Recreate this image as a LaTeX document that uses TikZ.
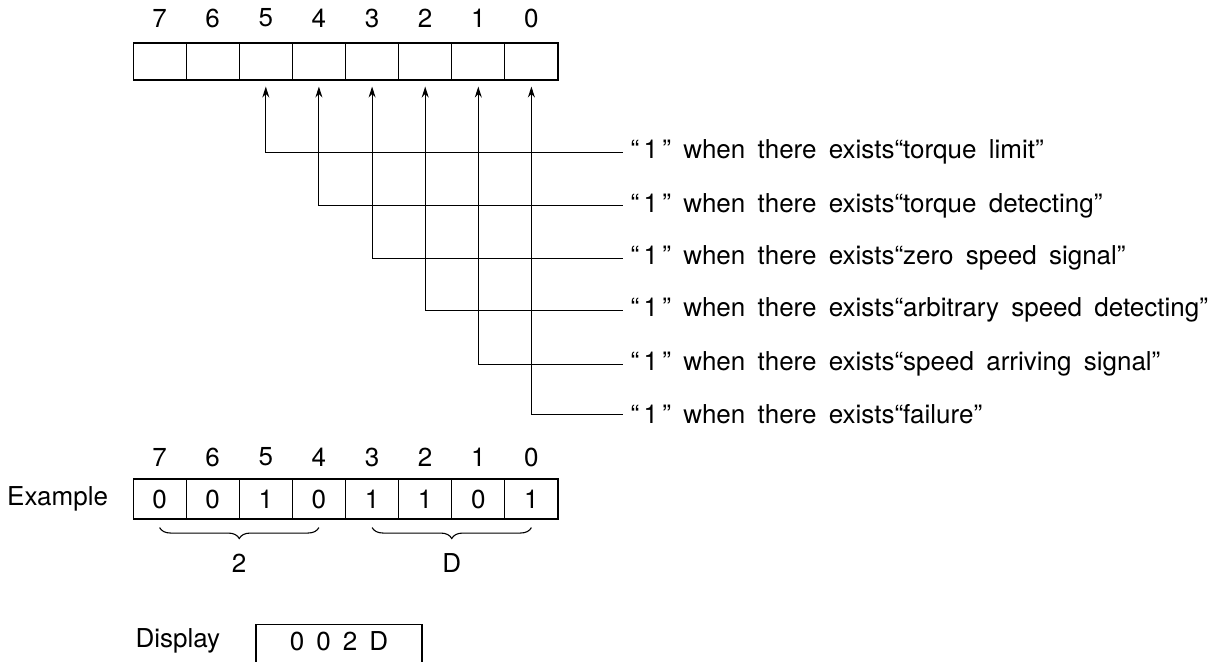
\documentclass[tikz,border=0pt]{standalone}
\usepackage{fontspec}
\setmainfont{TeX Gyre Heros}
\newfontfamily\descfont{TeX Gyre Heros}[WordSpace=1.7]
\usepackage{tikz}
\usetikzlibrary{arrows.meta,positioning,decorations.pathreplacing}

\begin{document}
\begin{tikzpicture}[>={Stealth[length=11pt,width=7pt]},x=1pt,y=-1pt,line width=1.1pt,
  every node/.style={font=\fontsize{26}{30}\selectfont},
  cell/.style={draw,minimum width=53.1pt,minimum height=37pt,inner sep=0pt},
  desc/.style={anchor=west,inner xsep=7pt,font=\descfont\fontsize{26}{30}\selectfont},
  brace/.style={decorate,decoration={brace,mirror,amplitude=11pt}}]
\useasboundingbox (0,0) rectangle (1222,661);
\node[cell] (r7) at (159.6,61.5) {};
\node[cell] (r6) at (212.7,61.5) {};
\node[cell] (r5) at (265.8,61.5) {};
\node[cell] (r4) at (318.9,61.5) {};
\node[cell] (r3) at (372.1,61.5) {};
\node[cell] (r2) at (425.2,61.5) {};
\node[cell] (r1) at (478.3,61.5) {};
\node[cell] (r0) at (531.4,61.5) {};
\node (b7) at (159.6,18) {7};
\node (b6) at (212.7,18) {6};
\node (b5) at (265.8,18) {5};
\node (b4) at (318.9,18) {4};
\node (b3) at (372.1,18) {3};
\node (b2) at (425.2,18) {2};
\node (b1) at (478.3,18) {1};
\node (b0) at (531.4,18) {0};
\node[desc] (m5) at (623,152.3) {“\,1\,” when there exists“torque limit”};
\node[desc] (m4) at (623,205.7) {“\,1\,” when there exists“torque detecting”};
\node[desc] (m3) at (623,258.3) {“\,1\,” when there exists“zero speed signal”};
\node[desc] (m2) at (623,310.3) {“\,1\,” when there exists“arbitrary speed detecting”};
\node[desc] (m1) at (623,364.3) {“\,1\,” when there exists“speed arriving signal”};
\node[desc] (m0) at (623,414.3) {“\,1\,” when there exists“failure”};
\draw[<-,shorten <=6pt] (r5.south) |- (m5.west);
\draw[<-,shorten <=6pt] (r4.south) |- (m4.west);
\draw[<-,shorten <=6pt] (r3.south) |- (m3.west);
\draw[<-,shorten <=6pt] (r2.south) |- (m2.west);
\draw[<-,shorten <=6pt] (r1.south) |- (m1.west);
\draw[<-,shorten <=6pt] (r0.south) |- (m0.west);
\node[anchor=east] (ex) at (112,499) {Example};
\node[cell,minimum height=40pt] (e7) at (159.6,499) {0};
\node[cell,minimum height=40pt] (e6) at (212.7,499) {0};
\node[cell,minimum height=40pt] (e5) at (265.8,499) {1};
\node[cell,minimum height=40pt] (e4) at (318.9,499) {0};
\node[cell,minimum height=40pt] (e3) at (372.1,499) {1};
\node[cell,minimum height=40pt] (e2) at (425.2,499) {1};
\node[cell,minimum height=40pt] (e1) at (478.3,499) {0};
\node[cell,minimum height=40pt] (e0) at (531.4,499) {1};
\node (c7) at (159.6,457) {7};
\node (c6) at (212.7,457) {6};
\node (c5) at (265.8,457) {5};
\node (c4) at (318.9,457) {4};
\node (c3) at (372.1,457) {3};
\node (c2) at (425.2,457) {2};
\node (c1) at (478.3,457) {1};
\node (c0) at (531.4,457) {0};
\draw[brace] ([yshift=-8pt]e7.south) -- ([yshift=-8pt]e4.south);
\draw[brace] ([yshift=-8pt]e3.south) -- ([yshift=-8pt]e0.south);
\node (h2) at (239,563) {2};
\node (hD) at (451.7,563) {D};
\node[anchor=east] (dl) at (224,641) {Display};
\node[draw,anchor=north,minimum width=166pt,inner sep=0pt,text height=26pt,text depth=24pt] (dv) at (339,624) {0\hspace{12pt}0\hspace{12pt}2\hspace{12pt}D};
\end{tikzpicture}
\end{document}
